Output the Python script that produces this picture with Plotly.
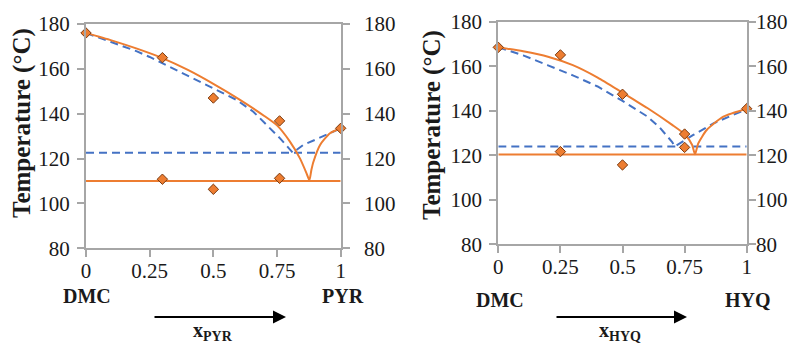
import plotly.graph_objects as go

# ---------------- data: DMC + PYR (left panel) ----------------
pyr_exp_x = [0, 0.30, 0.50, 0.76, 1.0, 0.30, 0.50, 0.76]
pyr_exp_y = [176, 165, 147, 136.8, 133.5, 110.8, 106.3, 111.2]

pyr_liq_x = [0, 0.1, 0.2, 0.3, 0.4, 0.5, 0.6, 0.7, 0.75, 0.8, 0.84, 0.866, 0.877,
             0.885, 0.893, 0.919, 0.958, 1.0]
pyr_liq_y = [176, 172.7, 169.0, 164.8, 159.5, 153.3, 146.5, 139.0, 134.8, 127.7, 120.1, 113.4, 110.3,
             115.0, 118.6, 126.1, 131.3, 133.5]
pyr_sol_x = [0, 1]
pyr_sol_y = [110, 110]

pyr_ideal_x = [0, 0.1, 0.2, 0.25, 0.382, 0.5, 0.592, 0.657, 0.709, 0.762, 0.812,
               0.853, 0.906, 0.958, 1.0]
pyr_ideal_y = [176, 172.0, 167.8, 165.3, 158.0, 151.5, 146.1, 140.9, 135.0, 129.0, 122.6,
               126.1, 128.7, 131.3, 133.5]
pyr_ideal_sol_x = [0, 1]
pyr_ideal_sol_y = [122.6, 122.6]

# ---------------- data: DMC + HYQ (right panel) ----------------
hyq_exp_x = [0, 0.25, 0.50, 0.75, 1.0, 0.25, 0.50, 0.75]
hyq_exp_y = [168.6, 165.2, 147.5, 129.6, 141.0, 121.7, 115.7, 123.6]

hyq_liq_x = [0, 0.1, 0.2, 0.3, 0.4, 0.5, 0.6, 0.7, 0.75, 0.78, 0.792,
             0.805, 0.839, 0.906, 1.0]
hyq_liq_y = [168.6, 166.8, 164.4, 160.6, 155.0, 148.2, 141.3, 133.7, 129.5, 124.8, 120.5,
             125.4, 131.4, 137.4, 141.0]
hyq_sol_x = [0, 1]
hyq_sol_y = [120.4, 120.4]

hyq_ideal_x = [0, 0.1, 0.2, 0.3, 0.4, 0.5, 0.6, 0.65, 0.7, 0.71,
               0.785, 0.866, 1.0]
hyq_ideal_y = [168.6, 165.0, 160.5, 156.0, 151.0, 144.5, 137.5, 132.5, 126.0, 124.0,
               129.2, 134.4, 140.8]
hyq_ideal_sol_x = [0, 1]
hyq_ideal_sol_y = [124.0, 124.0]

x_ticks = [0, 0.25, 0.5, 0.75, 1]
x_ticktext = ["0", "0.25", "0.5", "0.75", "1"]
y_ticks = [80, 100, 120, 140, 160, 180]

ORANGE = "#ED7D31"
BLUE = "#4472C4"
EDGE = "#7a3a10"
GRAY = "#a6a6a6"
TXT = "#1a1a1a"
FONT = "Liberation Serif, Times New Roman, serif"

# the page body has an 8px margin: the figure is drawn 8px in from the window corner
OFF = 8
W, H = 797 - OFF, 343 - OFF

def px(x):
    return (x - OFF) / W

def py(y):
    return 1 - (y - OFF) / H

fig = go.Figure()

def add_panel(xa, ya, ya_right, liq_x, liq_y, sol_x, sol_y, id_x, id_y, ids_x, ids_y, ex_x, ex_y):
    common = dict(xaxis=xa, yaxis=ya, showlegend=False, hoverinfo="skip")
    fig.add_trace(go.Scatter(x=id_x, y=id_y, mode="lines",
                             line=dict(color=BLUE, width=2, dash="8px,5px"), **common))
    fig.add_trace(go.Scatter(x=ids_x, y=ids_y, mode="lines",
                             line=dict(color=BLUE, width=2, dash="8px,5px"), **common))
    fig.add_trace(go.Scatter(x=sol_x, y=sol_y, mode="lines",
                             line=dict(color=ORANGE, width=2), **common))
    fig.add_trace(go.Scatter(x=liq_x, y=liq_y, mode="lines", line_shape="spline",
                             line=dict(color=ORANGE, width=2, smoothing=0.6), **common))
    fig.add_trace(go.Scatter(x=ex_x, y=ex_y, mode="markers", cliponaxis=False,
                             marker=dict(symbol="diamond", size=8, color=ORANGE,
                                         line=dict(color=EDGE, width=1)), **common))
    # secondary (right) temperature axis carries the same data, drawn with no marks
    fig.add_trace(go.Scatter(x=ex_x, y=ex_y, mode="none", xaxis=xa, yaxis=ya_right,
                             showlegend=False, hoverinfo="skip"))

add_panel("x", "y", "y3", pyr_liq_x, pyr_liq_y, pyr_sol_x, pyr_sol_y,
          pyr_ideal_x, pyr_ideal_y, pyr_ideal_sol_x, pyr_ideal_sol_y, pyr_exp_x, pyr_exp_y)
add_panel("x2", "y2", "y4", hyq_liq_x, hyq_liq_y, hyq_sol_x, hyq_sol_y,
          hyq_ideal_x, hyq_ideal_y, hyq_ideal_sol_x, hyq_ideal_sol_y, hyq_exp_x, hyq_exp_y)

def tickfont():
    return dict(family=FONT, size=21, color=TXT)

AX = dict(showgrid=False, zeroline=False, automargin=False, tickcolor=GRAY, tickwidth=1.5, ticklen=7)

def xaxis_main(domain, anchor):
    return dict(domain=domain, anchor=anchor, range=[0, 1], tickvals=x_ticks, ticktext=x_ticktext,
                ticks="outside", showline=True, linecolor=GRAY, linewidth=2, mirror=True,
                tickfont=tickfont(), ticklabelstandoff=-5, **AX)

def xaxis_inner(over, anchor):
    return dict(overlaying=over, anchor=anchor, range=[0, 1], tickvals=x_ticks,
                ticks="inside", showticklabels=False, showline=False, **AX)

def yaxis_main(domain, anchor):
    return dict(domain=domain, anchor=anchor, range=[80, 180], tickvals=y_ticks,
                ticks="outside", showline=True, linecolor=GRAY, linewidth=2,
                tickfont=tickfont(), ticklabelstandoff=3, **AX)

def yaxis_right(over, anchor, standoff):
    return dict(overlaying=over, anchor=anchor, side="right", range=[80, 180], tickvals=y_ticks,
                ticks="outside", showticklabels=True, showline=True, linecolor=GRAY, linewidth=2,
                tickfont=tickfont(), ticklabelstandoff=standoff, **AX)

def yaxis_inner(over, anchor):
    return dict(overlaying=over, anchor=anchor, side="left", range=[80, 180], tickvals=y_ticks,
                ticks="inside", mirror="allticks", showticklabels=False, showline=False, **AX)

fig.update_layout(
    width=W, height=H, margin=dict(l=0, r=0, t=0, b=0, autoexpand=False),
    paper_bgcolor="white", plot_bgcolor="white",
    font=dict(family=FONT, color=TXT),
    xaxis=xaxis_main([px(86), px(340.7)], "y"),
    yaxis=yaxis_main([py(248.3), py(24)], "x"),
    xaxis3=xaxis_inner("x", "y"),
    yaxis3=yaxis_right("y", "x", 10),
    yaxis5=yaxis_inner("y", "x"),
    xaxis2=xaxis_main([px(498.3), px(746.7)], "y2"),
    yaxis2=yaxis_main([py(244.3), py(22)], "x2"),
    xaxis4=xaxis_inner("x2", "y2"),
    yaxis4=yaxis_right("y2", "x2", -4),
    yaxis6=yaxis_inner("y2", "x2"),
)

anns = []
bold = dict(family=FONT, size=20, color=TXT)
# axis titles
for xc, yc in [(22, 123), (432, 125)]:
    anns.append(dict(text="<b>Temperature (°C)</b>", xref="paper", yref="paper",
                     x=px(xc), y=py(yc), textangle=-90, showarrow=False,
                     font=dict(family=FONT, size=25, color=TXT),
                     xanchor="center", yanchor="middle"))
# component labels
for xc, yc, t in [(87, 296, "DMC"), (343, 296, "PYR"), (500, 300, "DMC"), (748, 300, "HYQ")]:
    anns.append(dict(text="<b>" + t + "</b>", xref="paper", yref="paper",
                     x=px(xc), y=py(yc), showarrow=False, font=bold,
                     xanchor="center", yanchor="middle"))
# arrows
for x0, x1, yc in [(153, 286, 317), (555, 687, 317)]:
    anns.append(dict(text="", xref="paper", yref="paper", x=px(x1), y=py(yc),
                     ax=-(x1 - x0), ay=0, showarrow=True, arrowhead=2, arrowsize=1.3,
                     arrowwidth=2, arrowcolor="black"))
# x labels
for xc, yc, t in [(213, 331, "PYR"), (620, 331, "HYQ")]:
    anns.append(dict(text="<b>x<sub>" + t + "</sub></b>", xref="paper", yref="paper",
                     x=px(xc), y=py(yc), showarrow=False, font=bold,
                     xanchor="center", yanchor="middle"))
fig.update_layout(annotations=anns)

fig.write_html("out.html")
